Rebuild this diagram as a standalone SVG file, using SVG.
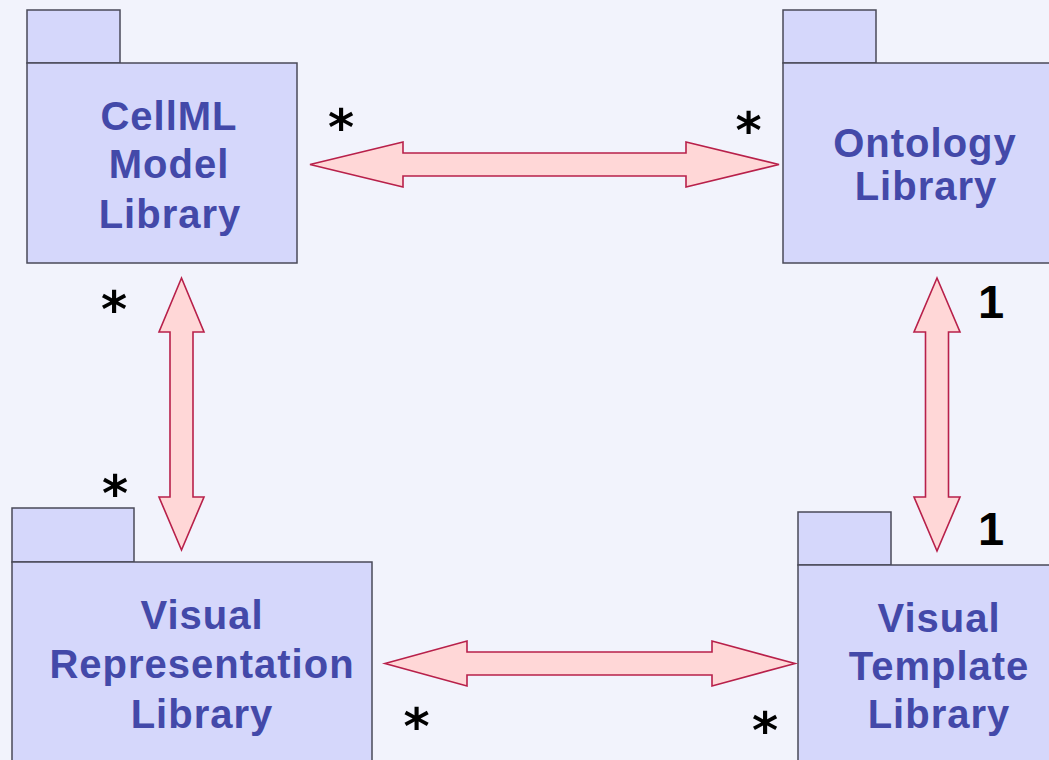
<svg xmlns="http://www.w3.org/2000/svg" width="1049" height="760" viewBox="0 0 1049 760">
<style>
.pkg rect{fill:#d5d7fb;stroke:#4a4a58;stroke-width:1.5}
.lbl{font-family:"Liberation Sans",Arial,sans-serif;font-weight:bold;font-size:40px;fill:#4349a9;text-anchor:middle;letter-spacing:1px}
.arr{fill:#ffd7d7;stroke:#b8204a;stroke-width:1.6;stroke-linejoin:miter}
.mult{font-family:"Liberation Sans",Arial,sans-serif;font-weight:bold;fill:#000;text-anchor:middle}
.ast{font-family:"DejaVu Sans",sans-serif;font-size:50px}
.one{font-size:47px}
</style>
<rect x="0" y="0" width="1049" height="760" fill="#f2f3fc"/>
<g id="cellml" class="pkg">
<rect x="27" y="10" width="93" height="53"/>
<rect x="27" y="63" width="270" height="200"/>
<text class="lbl" x="169" y="130">CellML</text>
<text class="lbl" x="169" y="178">Model</text>
<text class="lbl" x="170" y="228">Library</text>
</g>
<g id="ontology" class="pkg">
<rect x="783" y="10" width="93" height="53"/>
<rect x="783" y="63" width="300" height="200"/>
<text class="lbl" x="925" y="157">Ontology</text>
<text class="lbl" x="926" y="200">Library</text>
</g>
<g id="visualrep" class="pkg">
<rect x="12" y="508" width="122" height="54"/>
<rect x="12" y="562" width="360" height="220"/>
<text class="lbl" x="202" y="629">Visual</text>
<text class="lbl" x="202" y="678">Representation</text>
<text class="lbl" x="202" y="728">Library</text>
</g>
<g id="visualtpl" class="pkg">
<rect x="798" y="512" width="93" height="53"/>
<rect x="798" y="565" width="300" height="220"/>
<text class="lbl" x="939" y="632">Visual</text>
<text class="lbl" x="939" y="680">Template</text>
<text class="lbl" x="939" y="728">Library</text>
</g>
<g id="connectors">
<polygon class="arr" points="310,164.5 403,142 403,153 686,153 686,142 779,164.5 686,187 686,176 403,176 403,187"/>
<polygon class="arr" points="385,663.5 467,641 467,652 712,652 712,641 795,663.5 712,686 712,675 467,675 467,686"/>
<polygon class="arr" points="181.5,278 204,332 193,332 193,497 204,497 181.5,550 159,497 170,497 170,332 159,332"/>
<polygon class="arr" points="937,278 960,332 948.5,332 948.5,497 960,497 937,551 914,497 925.5,497 925.5,332 914,332"/>
</g>
<g id="multiplicities">
<text class="mult ast" x="341" y="145">*</text>
<text class="mult ast" x="748.5" y="148">*</text>
<text class="mult ast" x="114" y="327">*</text>
<text class="mult ast" x="115" y="511">*</text>
<text class="mult ast" x="416.5" y="744">*</text>
<text class="mult ast" x="765" y="748">*</text>
<text class="mult one" x="991" y="318">1</text>
<text class="mult one" x="991" y="545">1</text>
</g>
</svg>
